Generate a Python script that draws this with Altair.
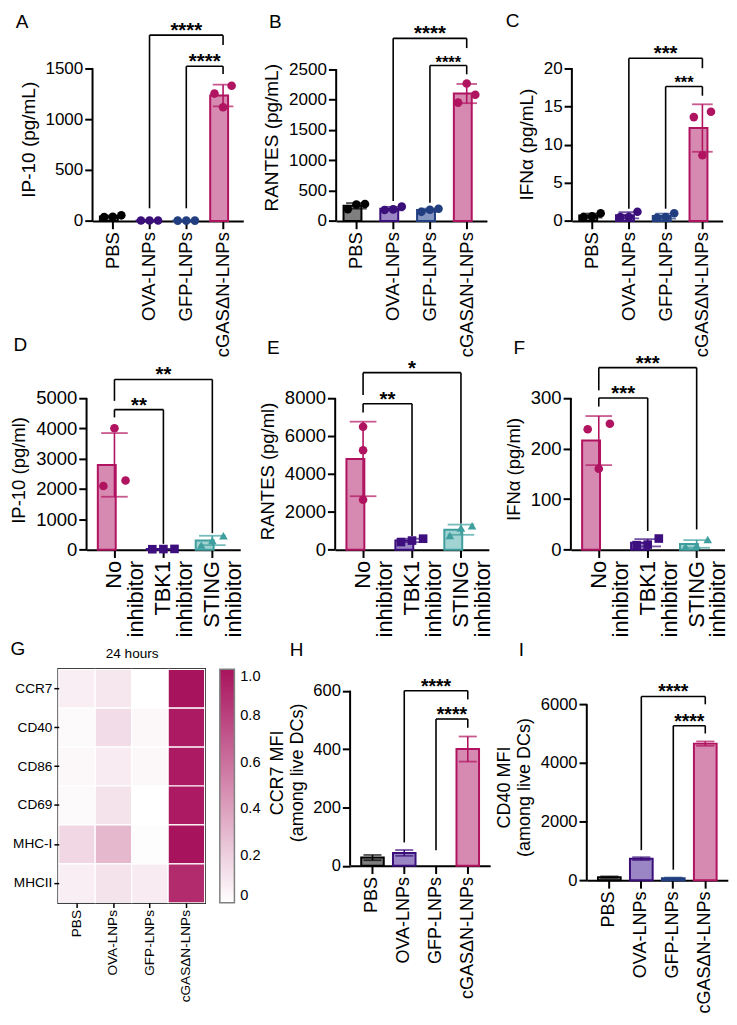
import altair as alt
import pandas as pd

K = 0.978
FONT = "Liberation Sans"

# ---------------- data ----------------
lnp_groups = ["PBS", "OVA-LNPs", "GFP-LNPs", "cGASΔN-LNPs"]
inh_groups = ["No inhibitor", "TBK1 inhibitor", "STING inhibitor"]

# replicate values (three per group)
ip10_lnp = [[38, 55, 40], [4, 4, 4], [3, 3, 3], [1328, 1117, 1251]]
rantes_lnp = [[270, 195, 280], [180, 235, 190], [150, 200, 185], [1950, 2265, 2080]]
ifna_lnp = [[0.6, 0.5, 1.0], [0.5, 1.2, 0.5], [0.4, 1.0, 0.5], [14.3, 8.6, 13.6]]
ip10_inh = [[2100, 4000, 2280], [20, 25, 15], [150, 460, 300]]
rantes_inh = [[6480, 5240, 2630], [580, 480, 400], [750, 1265, 1145]]
ifna_inh = [[249, 160, 238], [22, 10, 9], [20, 8, 6]]

# H and I: mean and error
ccr7_mean = [28, 44, None, 400]
ccr7_err = [9, 10, None, 43]
cd40_mean = [110, 740, 75, 4660]
cd40_err = [25, 50, 20, 75]

# G heatmap (normalised)
heat_markers = ["CCR7", "CD40", "CD86", "CD69", "MHC-I", "MHCII"]
heat_values = [
    [0.07, 0.10, 0.00, 1.00],
    [0.02, 0.15, 0.03, 0.97],
    [0.03, 0.08, 0.03, 0.97],
    [0.02, 0.12, 0.00, 0.97],
    [0.17, 0.30, 0.01, 1.00],
    [0.07, 0.12, 0.08, 0.90],
]
heat_ticks = [0, 0.2, 0.4, 0.6, 0.8, 1.0]

# significance brackets: (from, to, bracket level, from-leg bottom, to-leg bottom, stars, font)
sig_A = [(1, 3, 1825, 124, 1729, "****", 21), (2, 3, 1519, 124, 1443, "****", 21)]
sig_B = [(1, 3, 3008, 330, 2848, "****", 21), (2, 3, 2560, 300, 2416, "****", 17)]
sig_C = [(1, 3, 21.3, 1.6, 20.0, "***", 21), (2, 3, 17.6, 1.6, 16.4, "***", 17)]
sig_D = [(0, 2, 5609, 4904, 545, "**", 21), (0, 1, 4615, 4359, 192, "**", 21)]
sig_E = [(0, 2, 9333, 8154, 1385, "*", 21), (0, 1, 7692, 7231, 718, "**", 21)]
sig_F = [(0, 2, 360, 315, 40, "***", 21), (0, 1, 300, 283, 37, "***", 21)]
sig_H = [(1, 3, 600, 80, 570, "****", 20), (2, 3, 503, 53, 473, "****", 20)]
sig_I = [(1, 3, 6265, 1028, 6000, "****", 20), (2, 3, 5271, 365, 5006, "****", 20)]

# ---------------- styles ----------------
lnp_dot = ["#000000", "#3b0f7a", "#213f80", "#b0135f"]
lnp_fill = ["#7f7f7f", "#9a86c4", "#8595c2", "#d78ab1"]
lnp_line = ["#000000", "#3b0f7a", "#213f80", "#b0135f"]
lnp_shape = ["circle"] * 4
inh_dot = ["#b0135f", "#3d0e7e", "#3f9e9e"]
inh_fill = ["#d78ab1", "#9a86c4", "#a2d3d3"]
inh_line = ["#b0135f", "#3d0e7e", "#3f9e9e"]
inh_shape = ["circle", "square", "triangle-up"]

ROW_STEP = 337
T1 = 3
T2 = T1 + ROW_STEP
T3 = T2 + ROW_STEP


def sd(v):
    m = sum(v) / len(v)
    return (sum((x - m) ** 2 for x in v) / (len(v) - 1)) ** 0.5


def slots_for(vals, ppu, thr=10):
    idx = sorted(range(len(vals)), key=lambda i: vals[i])
    clusters = []
    for i in idx:
        if clusters and (vals[i] - vals[clusters[-1][-1]]) * ppu < thr:
            clusters[-1].append(i)
        else:
            clusters.append([i])
    out = ["C"] * len(vals)
    for c in clusters:
        if len(c) == 2:
            out[c[0]], out[c[1]] = "L", "R"
        elif len(c) >= 3:
            out[c[0]], out[c[1]], out[c[2]] = "L", "C", "R"
    return out


def bar_panel(p):
    groups = p["groups"]
    n = len(groups)
    T, zero = p["T"], p["zero"]
    W = K * p["w"]
    H = K * (zero - T)
    ymax = p["tick_val"] * (zero - T) / (zero - p["tick_y"])
    ppu = H / ymax
    pi, po = p["pi"], p["po"]
    step = W / (n - pi + 2 * po)
    bw = step * (1 - pi)
    xscale = alt.Scale(domain=groups, paddingInner=pi, paddingOuter=po)
    yscale = alt.Scale(domain=[0, ymax], nice=False, zero=True)

    bar_rows, pt_rows = [], []
    for i, g in enumerate(groups):
        if "reps" in p:
            v = p["reps"][i]
            m, e = sum(v) / len(v), sd(v)
            for val, s in zip(v, slots_for(v, ppu)):
                pt_rows.append({"grp": g, "val": val, "slot": s,
                                "col": p["dot"][i], "shape": p["shape"][i]})
        else:
            m, e = p["mean"][i], p["err"][i]
            if m is None:
                continue
        bar_rows.append({"grp": g, "mean": m, "lo": m - e, "hi": m + e,
                         "fill": p["fill"][i], "line": p["line"][i]})
    bars_df = pd.DataFrame(bar_rows)

    xax = dict(title=None, labelAngle=-90, labelFontSize=K * p["xfs"], labelPadding=K * 3,
               tickSize=K * 8, tickWidth=2, domainWidth=2, labelLimit=300)
    if p.get("split"):
        xax["labelExpr"] = "split(datum.label, ' ')"
        xax["labelLineHeight"] = K * p["xfs"]
    yax = alt.Axis(title=p["title"], values=p["ticks"], format="d", domain=False,
                   tickSize=K * 8, tickWidth=2, labelFontSize=K * p["yfs"],
                   titleFontSize=K * p["tfs"], labelPadding=K * 2, titlePadding=K * 7,
                   titleY=K * (p["tcy"] - T))

    bars = alt.Chart(bars_df).mark_bar(strokeWidth=2).encode(
        x=alt.X("grp:N", scale=xscale, axis=alt.Axis(**xax)),
        y=alt.Y("mean:Q", scale=yscale, axis=yax),
        fill=alt.Fill("fill:N", scale=None),
        stroke=alt.Stroke("line:N", scale=None),
    )
    whisk = alt.Chart(bars_df).mark_rule(strokeWidth=1.6).encode(
        x=alt.X("grp:N", scale=xscale),
        y=alt.Y("lo:Q", scale=yscale),
        y2="hi:Q",
        color=alt.Color("line:N", scale=None),
    )
    caps = alt.Chart(bars_df).transform_fold(["lo", "hi"], as_=["kind", "cap"]).mark_tick(
        size=0.8 * bw, thickness=1.8).encode(
        x=alt.X("grp:N", scale=xscale),
        y=alt.Y("cap:Q", scale=yscale),
        color=alt.Color("line:N", scale=None),
    )
    layers = [bars, whisk, caps]
    if pt_rows:
        pts = alt.Chart(pd.DataFrame(pt_rows)).mark_point(filled=True, size=75, opacity=1).encode(
            x=alt.X("grp:N", scale=xscale),
            xOffset=alt.XOffset("slot:N", scale=alt.Scale(domain=["L", "C", "R"])),
            y=alt.Y("val:Q", scale=yscale),
            color=alt.Color("col:N", scale=None),
            shape=alt.Shape("shape:N", scale=None),
        )
        layers.append(pts)
    yline = alt.Chart(pd.DataFrame({"a": [0]})).mark_rule(color="black", strokeWidth=2).encode(
        x=alt.value(0), y=alt.datum(0), y2=alt.datum(p["ticks"][-1]))
    layers.append(yline)

    hrows, vrows = [], []
    for (i, j, yb, l1, l2, s, fs) in p["sig"]:
        hrows.append({"g1": groups[i], "g2": groups[j], "yb": yb})
        vrows.append({"g": groups[i], "ylo": l1, "yhi": yb})
        vrows.append({"g": groups[j], "ylo": l2, "yhi": yb})
    layers.append(alt.Chart(pd.DataFrame(hrows)).mark_rule(color="black", strokeWidth=1.6).encode(
        x=alt.X("g1:N", scale=xscale), x2="g2:N", y=alt.Y("yb:Q", scale=yscale)))
    layers.append(alt.Chart(pd.DataFrame(vrows)).mark_rule(color="black", strokeWidth=1.6).encode(
        x=alt.X("g:N", scale=xscale), y=alt.Y("ylo:Q", scale=yscale), y2="yhi:Q"))
    for (i, j, yb, l1, l2, s, fs) in p["sig"]:
        layers.append(alt.Chart(pd.DataFrame([{"g": groups[i], "yb": yb, "t": s}])).mark_text(
            fontSize=K * fs, fontWeight="bold", baseline="alphabetic", dy=K * 2,
            dx=(j - i) * step / 2, color="black").encode(
            x=alt.X("g:N", scale=xscale), y=alt.Y("yb:Q", scale=yscale), text="t:N"))

    # panel letter in the top-left corner
    layers.append(alt.Chart(pd.DataFrame({"t": [p["letter"]]})).mark_text(
        align="left", baseline="alphabetic", fontSize=K * 19.5, color="black").encode(
        x=alt.value(K * (p["lx"] - p["ax"])), y=alt.value(K * (p["lb"] - T)), text="t:N"))

    return alt.layer(*layers).properties(width=W, height=H)


row1_common = dict(groups=lnp_groups, T=T1, zero=216, w=155, pi=0.3, po=0.2,
                   dot=lnp_dot, fill=lnp_fill, line=lnp_line, shape=lnp_shape,
                   xfs=19, yfs=17.5, tfs=19.5)
row2_common = dict(groups=inh_groups, T=T2, zero=554, w=158, pi=0.32, po=0.23,
                   dot=inh_dot, fill=inh_fill, line=inh_line, shape=inh_shape,
                   xfs=22.5, yfs=19, tfs=19, split=True)
row3_common = dict(groups=lnp_groups, T=T3, pi=0.29, po=0.35,
                   fill=lnp_fill, line=lnp_line, xfs=18.5, yfs=17, tfs=18.5)

pA = dict(row1_common, reps=ip10_lnp, ax=84, tick_val=1500, tick_y=59,
          ticks=[0, 500, 1000, 1500], title="IP-10 (pg/mL)", tcy=132,
          letter="A", lx=5, lb=18, sig=sig_A)
pB = dict(row1_common, reps=rantes_lnp, ax=334, tick_val=2500, tick_y=60,
          ticks=[0, 500, 1000, 1500, 2000, 2500], title="RANTES (pg/mL)", tcy=130,
          letter="B", lx=265, lb=18, sig=sig_B)
pC = dict(row1_common, reps=ifna_lnp, ax=575, tick_val=20, tick_y=59,
          ticks=[0, 5, 10, 15, 20], title="IFNα (pg/mL)", tcy=137,
          letter="C", lx=507, lb=17, sig=sig_C)
pD = dict(row2_common, reps=ip10_inh, ax=78, tick_val=5000, tick_y=398,
          ticks=[0, 1000, 2000, 3000, 4000, 5000], title="IP-10 (pg/ml)", tcy=472,
          letter="D", lx=3, lb=350, sig=sig_D)
pE = dict(row2_common, reps=rantes_inh, ax=333, tick_val=8000, tick_y=398,
          ticks=[0, 2000, 4000, 6000, 8000], title="RANTES (pg/ml)", tcy=473,
          letter="E", lx=263, lb=353, sig=sig_E)
pF = dict(row2_common, reps=ifna_inh, ax=574, tick_val=300, tick_y=398,
          ticks=[0, 100, 200, 300], title="IFNα (pg/ml)", tcy=471,
          letter="F", lx=515, lb=353, sig=sig_F)
pH = dict(row3_common, mean=ccr7_mean, err=ccr7_err, ax=349, w=144, zero=879,
          tick_val=600, tick_y=699, ticks=[0, 200, 400, 600],
          title=["CCR7 MFI", "(among live DCs)"], tcy=783,
          letter="H", lx=287, lb=663, sig=sig_H)
pI = dict(row3_common, mean=cd40_mean, err=cd40_err, ax=592, w=145, zero=894,
          tick_val=6000, tick_y=713, ticks=[0, 2000, 4000, 6000],
          title=["CD40 MFI", "(among live DCs)"], tcy=798,
          letter="I", lx=522, lb=663, sig=sig_I)

# ---------------- heatmap G ----------------
hrows = []
for r, mk in enumerate(heat_markers):
    for c, g in enumerate(lnp_groups):
        hrows.append({"marker": mk, "grp": g, "v": heat_values[r][c]})
hdf = pd.DataFrame(hrows)
G_X, G_W, G_BOTTOM = 50, 150, 917
GW, GH = K * G_W, K * (G_BOTTOM - T3)

G = alt.Chart(hdf).mark_rect(stroke="white", strokeWidth=1.2).encode(
    x=alt.X("grp:N", scale=alt.Scale(domain=lnp_groups, paddingInner=0, paddingOuter=0),
            axis=alt.Axis(title="24 hours", titleAngle=0, titleAlign="center",
                          titleBaseline="alphabetic", titleX=GW / 2,
                          titleY=K * (665 - G_BOTTOM), titleFontSize=K * 14,
                          titleFontWeight="normal",
                          labelAngle=-90, labelFontSize=K * 14, tickSize=K * 5,
                          tickWidth=1.5, domain=False, labelPadding=K * 2)),
    y=alt.Y("marker:N", scale=alt.Scale(domain=heat_markers, paddingInner=0, paddingOuter=0),
            axis=alt.Axis(title="G", titleAngle=0, titleAlign="left", titleBaseline="alphabetic",
                          titleX=K * (0 - G_X), titleY=K * (662 - T3), titleFontSize=K * 19.5,
                          titleFontWeight="normal",
                          labelFontSize=K * 14, tickSize=K * 5, tickWidth=1.5,
                          domain=False, labelPadding=K * 2)),
    color=alt.Color("v:Q", scale=alt.Scale(domain=[0, 1], range=["#ffffff", "#a8135d"],
                                           interpolate="rgb"),
                    legend=alt.Legend(title=None, orient="right", direction="vertical",
                                      gradientLength=GH, gradientThickness=K * 15, offset=K * 15,
                                      padding=0, values=heat_ticks,
                                      labelExpr="datum.value == 0 ? '0' : format(datum.value, '.1f')",
                                      labelFontSize=K * 15, labelOffset=K * 6,
                                      gradientStrokeColor="#808080", gradientStrokeWidth=1.5,
                                      labelColor="black")),
).properties(width=GW, height=GH, view=alt.ViewBackground(stroke="black", strokeWidth=2.5))


def spacer(w):
    return alt.Chart(pd.DataFrame({"v": [0]})).mark_point(opacity=0).encode(
        x=alt.value(0), y=alt.value(0)).properties(width=max(K * w, 1), height=1)


INDEP = dict(color="independent", xOffset="independent")


def row(items):
    return alt.hconcat(*items, spacing=0, bounds="flush").resolve_scale(
        **INDEP).resolve_legend(color="independent")


LEFT = 49
row1 = row([spacer(pA["ax"] - LEFT), bar_panel(pA), spacer(pB["ax"] - pA["ax"] - pA["w"]),
            bar_panel(pB), spacer(pC["ax"] - pB["ax"] - pB["w"]), bar_panel(pC)])
row2 = row([spacer(pD["ax"] - LEFT), bar_panel(pD), spacer(pE["ax"] - pD["ax"] - pD["w"]),
            bar_panel(pE), spacer(pF["ax"] - pE["ax"] - pE["w"]), bar_panel(pF)])
row3 = row([spacer(G_X - LEFT), G, spacer(pH["ax"] - G_X - G_W), bar_panel(pH),
            spacer(pI["ax"] - pH["ax"] - pH["w"]), bar_panel(pI)])

chart = alt.vconcat(row1, row2, row3, spacing=K * ROW_STEP, bounds="flush").resolve_scale(
    **INDEP).resolve_legend(color="independent").properties(padding=0).configure(
    font=FONT).configure_view(stroke=None).configure_axis(
    grid=False, labelColor="black", titleColor="black", domainColor="black", tickColor="black",
    labelFont=FONT, titleFont=FONT, titleFontWeight="normal").configure_legend(
    labelFont=FONT).configure_text(font=FONT)

chart.save("out.html", embed_options={"renderer": "svg", "actions": False})
